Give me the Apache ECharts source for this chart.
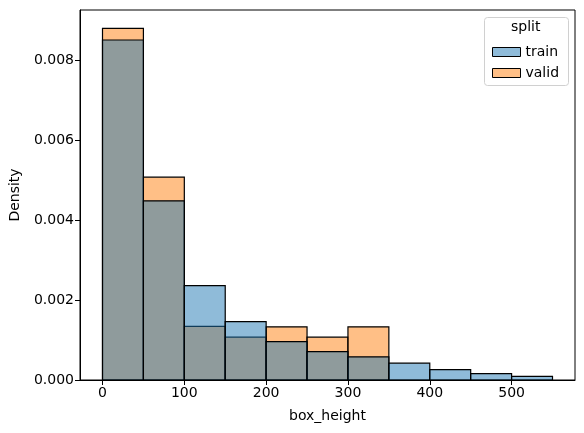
<!DOCTYPE html>
<html>
<head>
<meta charset="utf-8">
<script src="https://cdn.jsdelivr.net/npm/echarts@6/dist/echarts.min.js"></script>
<style>
  html, body { margin: 0; padding: 0; background: #fff; }
  #chart { width: 584px; height: 433px; }
</style>
</head>
<body>
<div id="chart"></div>
<script>
// histogram bins (box_height), width 50
const binStarts = [0, 50, 100, 150, 200, 250, 300, 350, 400, 450, 500];
const binWidth = 50;
const trainDensity = [0.00850, 0.00448, 0.00236, 0.00146, 0.00096, 0.00071, 0.00058, 0.00042, 0.00026, 0.00016, 0.00009];
const validDensity = [0.00879, 0.00507, 0.00134, 0.00107, 0.00133, 0.00107, 0.00133, 0, 0, 0, 0];
const xTicks = [0, 100, 200, 300, 400, 500];
const yTicks = [0, 0.002, 0.004, 0.006, 0.008];

const font = "DejaVu Sans";

function toBars(vals) {
  return binStarts.map((s, i) => [s, s + binWidth, vals[i]]).filter(d => d[2] > 0);
}

function histSeries(name, vals, fill, z) {
  return {
    name: name,
    type: "custom",
    z: z,
    data: toBars(vals),
    encode: { x: [0, 1], y: 2 },
    renderItem(params, api) {
      const p0 = api.coord([api.value(0), api.value(2)]);
      const p1 = api.coord([api.value(1), 0]);
      return {
        type: "rect",
        shape: { x: p0[0], y: p0[1], width: p1[0] - p0[0], height: p1[1] - p0[1] },
        style: { fill: fill, stroke: "#000", lineWidth: 1.2 },
      };
    },
  };
}

const chart = echarts.init(document.getElementById("chart"));
chart.setOption({
  animation: false,
  grid: { left: 79, right: 9, top: 10, bottom: 53, show: true, borderColor: "#000", borderWidth: 1 },
  xAxis: {
    type: "value",
    min: -27.5,
    max: 577.5,
    name: "box_height",
    nameLocation: "middle",
    nameGap: 29,
    nameTextStyle: { fontFamily: font, fontSize: 14, color: "#000" },
    axisLine: { show: true, onZero: false, lineStyle: { color: "#000" } },
    axisTick: { show: true, length: 5, customValues: xTicks, lineStyle: { color: "#000" } },
    axisLabel: { customValues: xTicks, fontFamily: font, fontSize: 14, color: "#000", margin: 6 },
    splitLine: { show: false },
  },
  yAxis: {
    type: "value",
    min: 0,
    max: 0.00925,
    name: "Density",
    nameLocation: "middle",
    nameGap: 58,
    nameTextStyle: { fontFamily: font, fontSize: 14, color: "#000" },
    axisLine: { show: true, onZero: false, lineStyle: { color: "#000" } },
    axisTick: { show: true, length: 5, customValues: yTicks, lineStyle: { color: "#000" } },
    axisLabel: {
      customValues: yTicks,
      fontFamily: font, fontSize: 14, color: "#000", margin: 6,
      formatter: v => v.toFixed(3),
    },
    splitLine: { show: false },
  },
  legend: {
    orient: "vertical",
    left: 487,
    top: 40,
    itemWidth: 28,
    itemHeight: 9,
    itemGap: 7,
    textStyle: { fontFamily: font, fontSize: 14, color: "#000" },
    data: [
      { name: "train", icon: "rect", itemStyle: { color: "#8fbbd9", borderColor: "#000", borderWidth: 1 } },
      { name: "valid", icon: "rect", itemStyle: { color: "#ffbf86", borderColor: "#000", borderWidth: 1 } },
    ],
  },
  graphic: [
    {
      type: "rect",
      left: 484, top: 17, z: -1,
      shape: { width: 84, height: 68, r: 3 },
      style: { fill: "rgba(255,255,255,0.8)", stroke: "#d0d0d0", lineWidth: 1 },
    },
    {
      type: "text",
      left: 511, top: 20,
      style: { text: "split", font: "14px 'DejaVu Sans'", fill: "#000" },
    },
  ],
  series: [
    histSeries("valid", validDensity, "rgba(255,127,14,0.5)", 1),
    histSeries("train", trainDensity, "rgba(31,119,180,0.5)", 2),
  ],
});
</script>
</body>
</html>
